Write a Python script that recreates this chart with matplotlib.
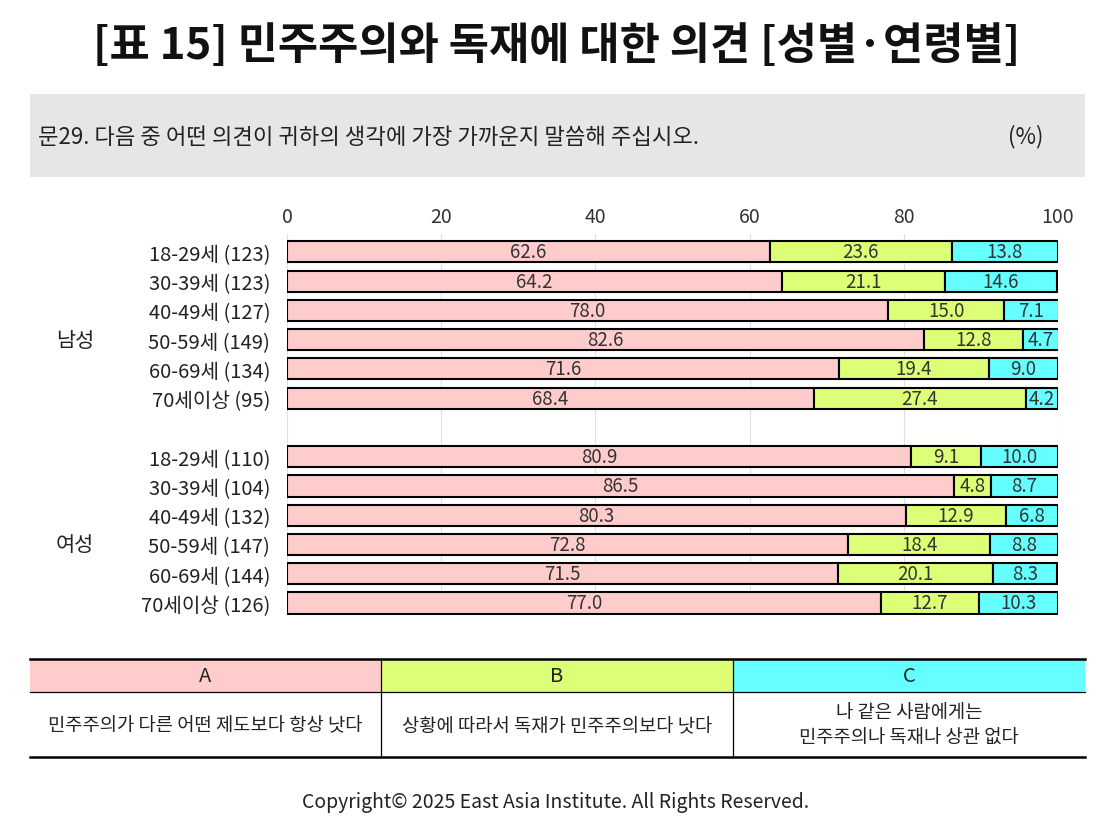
import matplotlib
matplotlib.use("Agg")
import matplotlib.pyplot as plt
from matplotlib.patches import Rectangle
import numpy as np

plt.rcParams['font.family'] = ['Noto Sans CJK KR', 'DejaVu Sans']

title = "[표 15] 민주주의와 독재에 대한 의견 [성별·연령별]"
question = "문29. 다음 중 어떤 의견이 귀하의 생각에 가장 가까운지 말씀해 주십시오."
groups = ["남성", "여성"]
age_labels_m = ["18-29세 (123)", "30-39세 (123)", "40-49세 (127)", "50-59세 (149)", "60-69세 (134)", "70세이상 (95)"]
age_labels_f = ["18-29세 (110)", "30-39세 (104)", "40-49세 (132)", "50-59세 (147)", "60-69세 (144)", "70세이상 (126)"]
A_m = [62.6, 64.2, 78.0, 82.6, 71.6, 68.4]
B_m = [23.6, 21.1, 15.0, 12.8, 19.4, 27.4]
C_m = [13.8, 14.6, 7.1, 4.7, 9.0, 4.2]
A_f = [80.9, 86.5, 80.3, 72.8, 71.5, 77.0]
B_f = [9.1, 4.8, 12.9, 18.4, 20.1, 12.7]
C_f = [10.0, 8.7, 6.8, 8.8, 8.3, 10.3]
series_names = ["A", "B", "C"]
series_desc = ["민주주의가 다른 어떤 제도보다 항상 낫다",
               "상황에 따라서 독재가 민주주의보다 낫다",
               "나 같은 사람에게는\n민주주의나 독재나 상관 없다"]
colors = ["#FFCCCC", "#DDFF77", "#66FFFF"]
xticks = [0, 20, 40, 60, 80, 100]

W, H = 1102, 828
fig = plt.figure(figsize=(W/100, H/100), dpi=100)

# overlay in pixel coordinates
ov = fig.add_axes([0, 0, 1, 1])
ov.set_xlim(0, W); ov.set_ylim(H, 0); ov.axis('off')

ov.text(557, 46, title, ha='center', va='center', fontsize=31.5, fontweight='bold', color='#111111')
ov.add_patch(Rectangle((30, 95), 1055, 83, facecolor='#E6E6E6', edgecolor='none'))
ov.text(38, 137, question, ha='left', va='center', fontsize=16, color='#222222')
ov.text(1043, 137, "(%)", ha='right', va='center', fontsize=16, color='#222222')

# legend table
cols_x = [30, 381, 733, 1085]
ty0, ty1, ty2 = 660, 693, 758
for i in range(3):
    ov.add_patch(Rectangle((cols_x[i], ty0), cols_x[i+1]-cols_x[i], ty1-ty0, facecolor=colors[i], edgecolor='none'))
    cx = (cols_x[i] + cols_x[i+1]) / 2
    ov.text(cx, (ty0+ty1)/2, series_names[i], ha='center', va='center', fontsize=14.5, color='#222222')
    ov.text(cx, (ty1+ty2)/2, series_desc[i], ha='center', va='center', fontsize=13.5, color='#222222', linespacing=1.3)
ov.plot([30, 1085], [ty0, ty0], color='black', lw=1.8)
ov.plot([30, 1085], [ty2, ty2], color='black', lw=1.8)
ov.plot([30, 1085], [ty1, ty1], color='black', lw=0.9)
for x in cols_x[1:-1]:
    ov.plot([x, x], [ty0, ty2], color='black', lw=0.9)

ov.text(556, 803, "Copyright© 2025 East Asia Institute. All Rights Reserved.", ha='center', va='center', fontsize=14, color='#222222')

# group labels
ov.text(75, 341, groups[0], ha='center', va='center', fontsize=15, color='#222222')
ov.text(75, 545, groups[1], ha='center', va='center', fontsize=15, color='#222222')

# main chart
left, right = 287 / W, 1058 / W
top_px, bot_px = 235.4, 615.7
ax = fig.add_axes([left, 1 - bot_px / H, right - left, (bot_px - top_px) / H])
A = A_m + [np.nan] + A_f
B = B_m + [np.nan] + B_f
C = C_m + [np.nan] + C_f
labels = age_labels_m + [""] + age_labels_f
ypos = np.arange(len(labels))
valid = [i for i in ypos if not np.isnan(A[i])]
Av = np.array([A[i] for i in valid]); Bv = np.array([B[i] for i in valid]); Cv = np.array([C[i] for i in valid])
yv = np.array(valid)
lefts = np.zeros(len(valid))
for vals, col in zip([Av, Bv, Cv], colors):
    ax.barh(yv, vals, left=lefts, height=0.72, color=col, edgecolor='black', linewidth=1.5, zorder=3)
    for y, l, v in zip(yv, lefts, vals):
        ax.text(l + v / 2, y, f"{v:.1f}", ha='center', va='center', fontsize=13.5, color='#333333', zorder=4)
    lefts = lefts + vals

ax.set_xlim(0, 100)
ax.set_ylim(12.4, -0.6)
ax.set_xticks(xticks)
ax.xaxis.tick_top()
ax.tick_params(axis='x', length=0, labelsize=14, labelcolor='#333333', pad=5)
ax.set_yticks(ypos)
ax.set_yticklabels(labels)
ax.tick_params(axis='y', length=0, labelsize=14.5, labelcolor='#222222', pad=12)
ax.grid(axis='x', color='#E0E0E0', linewidth=0.8, zorder=0)
for s in ax.spines.values():
    s.set_visible(False)
ax.set_facecolor('none')

fig.savefig("out.png", dpi=100)
